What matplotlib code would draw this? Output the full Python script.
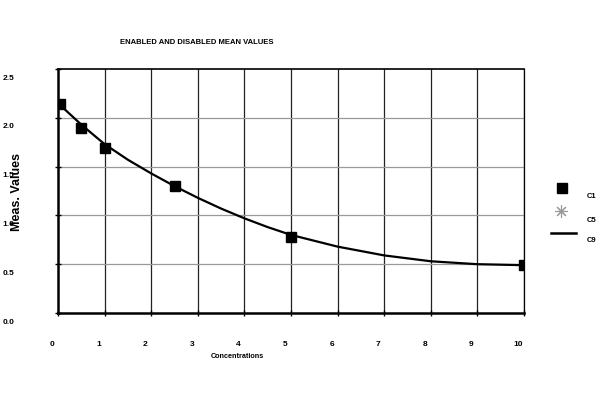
import matplotlib.pyplot as plt
import matplotlib.transforms as mtransforms
from matplotlib.lines import Line2D

# data
c1_x = [0.05, 0.5, 1.0, 2.5, 5.0, 10.0]
c1_y = [2.14, 1.90, 1.69, 1.30, 0.78, 0.49]

c9_x = [0.0, 0.5, 1.0, 1.5, 2.0, 2.5, 3.0, 3.5, 4.0, 4.5, 5.0, 6.0, 7.0, 8.0, 9.0, 10.0]
c9_y = [2.15, 1.93, 1.73, 1.57, 1.43, 1.30, 1.18, 1.07, 0.97, 0.88, 0.80, 0.68, 0.59, 0.53, 0.50, 0.49]

x_ticks = list(range(0, 11))
y_ticks = [0.0, 0.5, 1.0, 1.5, 2.0, 2.5]
legend_names = ["C1", "C5", "C9"]

plt.rcParams['font.family'] = ['Liberation Sans', 'DejaVu Sans']

fig = plt.figure(figsize=(6, 3.96), dpi=100)
ax = fig.add_axes([58/600, 1 - 313/396, 466/600, 244/396])

ax.plot(c9_x, c9_y, color='black', lw=1.6, zorder=3)
ax.plot(c1_x, c1_y, 's', color='black', ms=7.5, zorder=4)

ax.set_xlim(0, 10)
ax.set_ylim(0, 2.5)
ax.set_xticks(x_ticks)
ax.set_yticks(y_ticks)
ax.set_xticklabels([str(t) for t in x_ticks], fontsize=6, fontweight='bold')
ax.set_yticklabels(["%.1f" % t for t in y_ticks], fontsize=6, fontweight='bold')
ax.tick_params(axis='both', direction='inout', length=5, width=1, color='black')
ax.tick_params(axis='x', pad=18)
ax.tick_params(axis='y', pad=29)

# excel-style offset labels
for lab in ax.get_yticklabels():
    lab.set_transform(lab.get_transform() + mtransforms.ScaledTranslation(0, -8/100, fig.dpi_scale_trans))
for lab in ax.get_xticklabels():
    lab.set_transform(lab.get_transform() + mtransforms.ScaledTranslation(-6/100, 0, fig.dpi_scale_trans))

for x in x_ticks[1:]:
    ax.axvline(x, color='#222222', lw=0.9, zorder=1)
for y in y_ticks[1:-1]:
    ax.axhline(y, color='#999999', lw=0.9, zorder=1)

ax.spines['left'].set_linewidth(1.8)
ax.spines['bottom'].set_linewidth(1.8)
ax.spines['top'].set_linewidth(1.2)
ax.spines['right'].set_linewidth(0.9)

fig.text(197/600, 1 - 42/396, "ENABLED AND DISABLED MEAN VALUES", fontsize=5.5, fontweight='bold',
         ha='center', va='center')
fig.text(17/600, 1 - 192/396, "Meas. Values", fontsize=9, fontweight='bold', rotation=90,
         ha='center', va='center')
fig.text(237/600, 1 - 356/396, "Concentrations", fontsize=5.2, fontweight='bold',
         ha='center', va='center')

# legend drawn by hand
fig.add_artist(Line2D([562/600], [1 - 188/396], marker='s', color='black', ms=6.5, ls='none'))
fig.add_artist(Line2D([561/600], [1 - 211/396], marker=(8, 2, 0), color='#999999', ms=9, ls='none',
                      markeredgewidth=0.8))
fig.add_artist(Line2D([551/600, 576/600], [1 - 233/396, 1 - 233/396], color='black', lw=1.8))
for name, yy in zip(legend_names, [197, 220, 241]):
    fig.text(587/600, 1 - yy/396, name, fontsize=5.5, fontweight='bold', ha='left', va='center')

fig.savefig("out.png", dpi=100)
